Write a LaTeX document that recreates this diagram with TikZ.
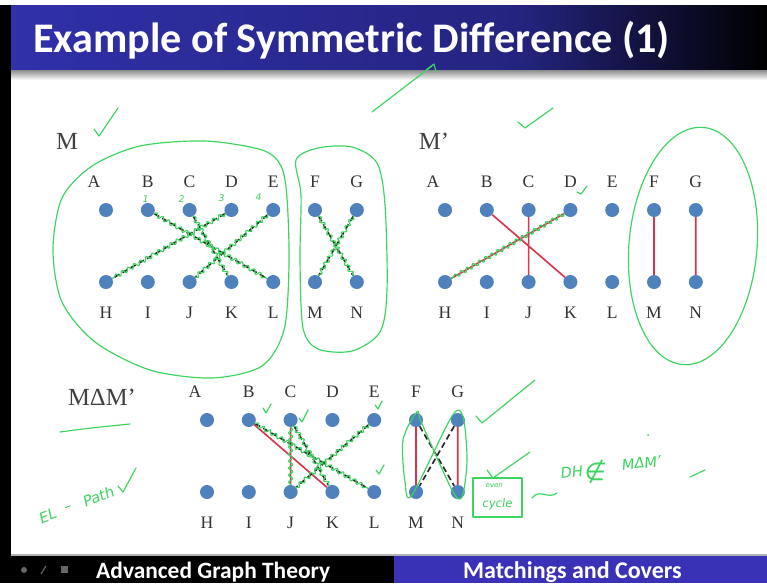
\documentclass[tikz,border=0pt]{standalone}
\usepackage{fontspec}
\setmainfont{Liberation Serif}
\newfontfamily\slidefont{Carlito}
\newfontfamily\penfont[FakeSlant=0.15]{DejaVu Sans}
\usetikzlibrary{positioning, decorations.pathmorphing}
\definecolor{titleblue}{HTML}{3030AA}
\definecolor{barblue}{HTML}{3A32B6}
\definecolor{vertex}{HTML}{4F81BD}
\definecolor{matchred}{HTML}{D9344C}
\definecolor{marker}{HTML}{3DD460}

% two rows of vertices A..G over H..N, named with a prefix
\newcommand{\vertexrows}[3]{%
  \foreach \t/\b/\dx [count=\i from 0] in {A/H/-12,B/I/0,C/J/0,D/K/0,E/L/0,F/M/0,G/N/0} {
    \node[vtx] (#1\t) at ({#2+41.8*\i},#3) {};
    \node[vtx] (#1\b) at ({#2+41.8*\i},#3+72) {};
    \node[lbl] at ({#2+41.8*\i+\dx},#3-28) {\t};
    \node[lbl] at ({#2+41.8*\i},#3+103) {\b};
  }}

\begin{document}
\begin{tikzpicture}[x=0.03cm, y=-0.03cm,
    vtx/.style={circle, fill=vertex, minimum size=0.42cm, inner sep=0pt},
    lbl/.style={font=\fontsize{15}{15}\selectfont, text=black!80},
    setname/.style={font=\fontsize{21}{21}\selectfont, text=black!75},
    dashedge/.style={black!85, line width=1.4pt, dash pattern=on 5pt off 3pt},
    redge/.style={matchred, line width=1.4pt},
    ink/.style={marker, line width=1pt, line cap=round, line join=round},
    wavy/.style={ink, decorate, decoration={snake, amplitude=1.8pt, segment length=6pt}},
    scrawl/.style={text=marker, inner sep=0pt, font=\penfont\fontsize{12.5}{12.5}\selectfont}]
  \useasboundingbox (0,0) rectangle (767,583);
  \fill[white] (0,0) rectangle (767,583);

  % title bar
  \fill[black] (0,5) rectangle (11,583);
  \shade[left color=titleblue, right color=titleblue!75!black] (11,5) rectangle (520,70);
  \shade[left color=titleblue!75!black, right color=black] (520,5) rectangle (767,70);
  \shade[top color=black!45, bottom color=white] (11,70) rectangle (767,80);
  \node[anchor=base west, inner sep=0pt, text=white,
        font=\slidefont\bfseries\fontsize{36}{36}\selectfont] (title) at (33,52)
        {Example of Symmetric Difference (1)};

  % bottom bar
  \fill[black!30] (11,554) rectangle (767,556);
  \fill[black] (0,556) rectangle (394,583);
  \fill[barblue] (394,556) rectangle (767,583);
  \fill[black!60] (24,570) circle (3);
  \draw[black!60, line width=1pt] (41,574) -- (46,566);
  \fill[black!60] (61,566) rectangle (68,573);
  \node[anchor=base west, inner sep=0pt, text=white,
        font=\slidefont\bfseries\fontsize{20}{20}\selectfont] (course) at (96,578) {Advanced Graph Theory};
  \node[anchor=base west, inner sep=0pt, text=white,
        font=\slidefont\bfseries\fontsize{20.5}{20.5}\selectfont] (topic) at (463,578) {Matchings and Covers};

  % set names
  \node[setname] (mname) at (67,141) {M};
  \node[setname] (pname) at (434,141) {M’};
  \node[setname] (dname) at (102,397) {MΔM’};

  % vertices
  \vertexrows{m}{106}{210}
  \vertexrows{p}{445}{210}
  \vertexrows{d}{207}{420}

  % M
  \draw[dashedge] (mB) -- (mL) (mC) -- (mK) (mD) -- (mH) (mE) -- (mJ) (mF) -- (mN) (mG) -- (mM);
  \draw[wavy] (mB) -- (mL);
  \draw[wavy] (mC) -- (mK);
  \draw[wavy] (mD) -- (mH);
  \draw[wavy] (mE) -- (mJ);
  \draw[wavy] (mF) -- (mN);
  \draw[wavy] (mG) -- (mM);

  % M'
  \draw[redge] (pB) -- (pK) (pC) -- (pJ) (pD) -- (pH) (pF) -- (pM) (pG) -- (pN);
  \draw[wavy] (pD) -- (pH);

  % symmetric difference
  \draw[redge] (dB) -- (dK) (dC) -- (dJ) (dF) -- (dM) (dG) -- (dN);
  \draw[dashedge] (dB) -- (dL) (dC) -- (dK) (dE) -- (dJ) (dF) -- (dN) (dG) -- (dM);
  \draw[wavy] (dE) -- (dJ);
  \draw[wavy] (dB) -- (dL);
  \draw[wavy] (dC) -- (dK);
  \draw[wavy] (dC) -- (dJ);

  % pen marks
  \draw[ink] plot[smooth cycle] coordinates {(262,150) (205,141) (140,146) (92,166) (62,198) (53,250)
    (62,302) (95,342) (150,370) (212,378) (262,366) (284,330) (289,265) (287,198) (281,166)};
  \draw[ink] plot[smooth cycle] coordinates {(296,160) (318,148) (352,147) (377,163) (385,205)
    (387,290) (380,332) (352,351) (318,349) (303,328) (300,260) (301,195)};
  \draw[ink] (693,246) ellipse [x radius=64, y radius=119, rotate=-5];
  \draw[ink] plot[smooth cycle, tension=0.5] coordinates {(417,412) (403,440) (405,482) (412,495)
    (452,416) (463,417) (467,460) (462,497) (452,490) (422,424)};
  \draw[ink] (372,112) -- (432,66) (426,70) -- (434,64) -- (436,72);
  \draw[ink] (94,129) -- (99,136) -- (118,108);
  \draw[ink] (518,122) -- (525,128) -- (553,108);
  \draw[ink] (577,192) -- (581,194) -- (587,186);
  \draw[ink] (476,416) -- (482,423) -- (535,380);
  \draw[ink] (487,470) -- (493,478) -- (530,452);
  \draw[ink] (263,408) -- (266,413) -- (271,404);
  \draw[ink] (299,418) -- (302,422) -- (308,410);
  \draw[ink] (375,405) -- (378,409) -- (382,401);
  \draw[ink] (376,470) -- (379,474) -- (384,465);
  \draw[ink] (60,432) .. controls (90,428) .. (130,424);
  \draw[ink] (532,498) .. controls (540,488) and (548,500) .. (557,493);
  \draw[ink] (690,477) -- (705,470);
  \fill[marker] (648,435) circle (1);
  \node[scrawl, font=\penfont\fontsize{8}{8}\selectfont] (n1) at (145,199) {1};
  \node[scrawl, font=\penfont\fontsize{8}{8}\selectfont] (n2) at (181,199) {2};
  \node[scrawl, font=\penfont\fontsize{8}{8}\selectfont] (n3) at (221,198) {3};
  \node[scrawl, font=\penfont\fontsize{8}{8}\selectfont] (n4) at (258,197) {4};
  \node[scrawl, rotate=21] (el) at (47,516) {EL};
  \node[scrawl, rotate=21] (dash) at (68,509) {–};
  \node[scrawl, rotate=21] (path) at (98,497) {Path};
  \draw[ink] (118,486) -- (123,492) -- (136,468);
  \draw[ink] (473,478) rectangle (522,517);
  \node[scrawl, font=\penfont\fontsize{6}{6}\selectfont] (even) at (494,486) {even};
  \node[scrawl, font=\penfont\fontsize{10}{10}\selectfont] (cycle) at (497,504) {cycle};
  \node[scrawl, rotate=5] (dh) at (571,472) {DH};
  \node[scrawl, font=\penfont\fontsize{21}{21}\selectfont] (notin) at (594,472) {∉};
  \node[scrawl, rotate=5] (dset) at (641,463) {MΔM’};
\end{tikzpicture}
\end{document}
